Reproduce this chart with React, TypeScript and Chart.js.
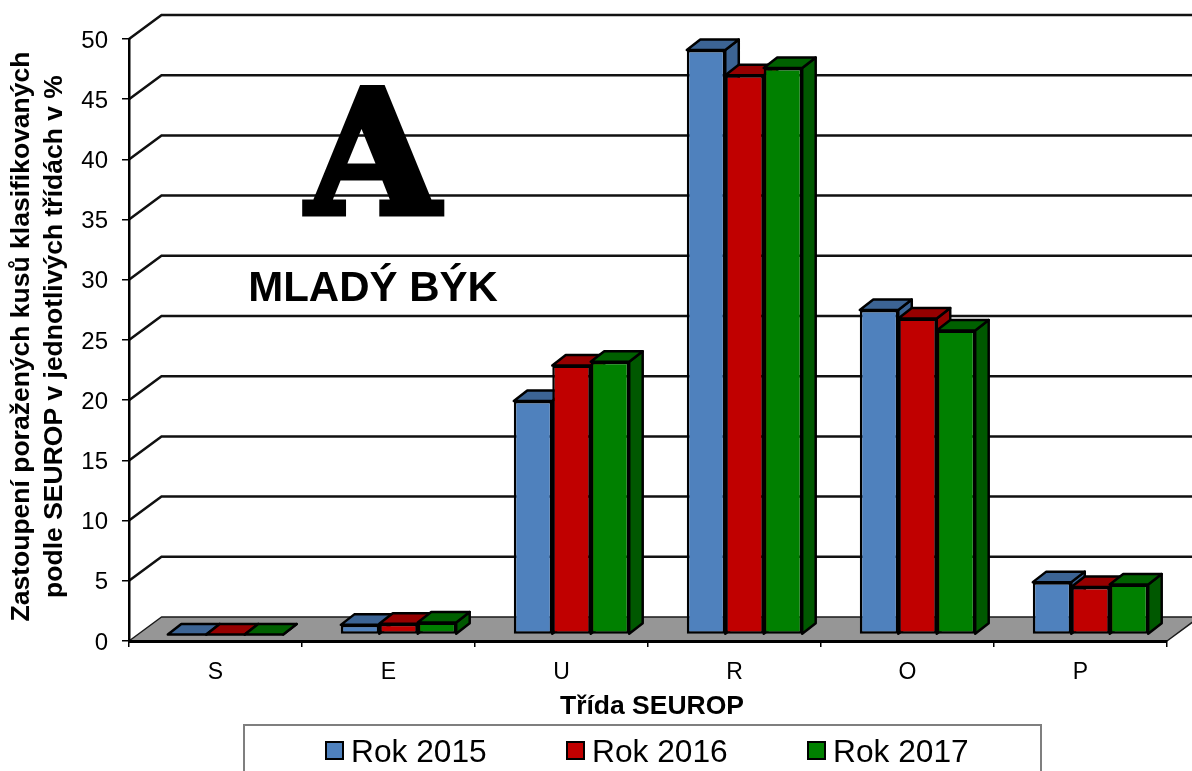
import React, { useEffect, useRef } from "react";
import { Chart, registerables } from "chart.js";

Chart.register(...registerables);

const categories = ["S", "E", "U", "R", "O", "P"];
const rok2015 = [0, 0.8, 19.4, 48.55, 26.95, 4.35];
const rok2016 = [0, 0.9, 22.35, 46.45, 26.25, 3.95];
const rok2017 = [0, 1.0, 22.65, 47.05, 25.25, 4.15];
const seriesLabels = ["Rok 2015", "Rok 2016", "Rok 2017"];
const yTitle = ["Zastoupení poražených kusů klasifikovaných", "podle SEUROP v jednotlivých třídách v %"];
const xTitle = "Třída SEUROP";
const bigLetter = "A";
const subtitle = "MLADÝ BÝK";

const frontColors = ["#4F81BD", "#C00000", "#008000"];
const shadeColors = ["#3C6494", "#960000", "#006000"];
const sideColors = ["#3C6494", "#960000", "#005800"];

const ARIAL = '"Liberation Sans", Arial, sans-serif';
// projection of the 3D box
const WALL = { dx: 32.5, dy: -24 };
const BAR_SHIFT = { dx: 10, dy: -6.5 };
const BAR_DEPTH = { dx: 13.5, dy: -10.5 };

function poly(ctx: CanvasRenderingContext2D, pts: number[][], fill: string | null, stroke: string, lw: number) {
  ctx.beginPath();
  pts.forEach((p, i) => (i ? ctx.lineTo(p[0], p[1]) : ctx.moveTo(p[0], p[1])));
  ctx.closePath();
  if (fill) {
    ctx.fillStyle = fill;
    ctx.fill();
  }
  ctx.strokeStyle = stroke;
  ctx.lineWidth = lw;
  ctx.lineJoin = "round";
  ctx.stroke();
}

// nudge a scale's labels or title by a few pixels when it paints them
function nudge(scale: any, method: string, dx: number, dy: number) {
  if (scale[`__${method}`]) return;
  scale[`__${method}`] = true;
  const orig = scale[method];
  scale[method] = function (...args: any[]) {
    const ctx = this.ctx;
    ctx.save();
    ctx.translate(dx, dy);
    orig.apply(this, args);
    ctx.restore();
  };
}

const box3d = {
  id: "box3d",
  beforeDraw(chart: any) {
    const { ctx, chartArea: a, scales } = chart;
    const y = scales.y;
    const W = chart.width + 40;
    ctx.save();
    // floor
    const y0 = y.getPixelForValue(0);
    poly(
      ctx,
      [
        [a.left, y0],
        [a.left + WALL.dx, y0 + WALL.dy],
        [W, y0 + WALL.dy],
        [a.right + WALL.dx, y0 + WALL.dy],
        [a.right, y0],
      ],
      "#969696",
      "#1a1a1a",
      1.5
    );
    // walls' grid lines
    ctx.strokeStyle = "#111";
    ctx.lineWidth = 2.5;
    ctx.lineJoin = "miter";
    y.ticks.forEach((t: any) => {
      if (t.value === 0) return;
      const py = y.getPixelForValue(t.value);
      ctx.beginPath();
      ctx.moveTo(a.left, py);
      ctx.lineTo(a.left + WALL.dx, py + WALL.dy);
      ctx.lineTo(W, py + WALL.dy);
      ctx.stroke();
    });
    ctx.restore();
  },
  beforeDatasetsDraw(chart: any) {
    const { ctx } = chart;
    ctx.save();
    ctx.translate(BAR_SHIFT.dx, BAR_SHIFT.dy);
    const n = chart.data.labels.length;
    for (let c = 0; c < n; c++) {
      chart.data.datasets.forEach((_: any, d: number) => {
        const b = chart.getDatasetMeta(d).data[c];
        const l = b.x - b.width / 2;
        const r = b.x + b.width / 2;
        const t = b.y;
        const base = b.base;
        const { dx, dy } = BAR_DEPTH;
        poly(ctx, [[r, t], [r + dx, t + dy], [r + dx, base + dy], [r, base]], sideColors[d], "#000", 2.5);
        poly(ctx, [[l, t], [l + dx, t + dy], [r + dx, t + dy], [r, t]], shadeColors[d], "#000", 2.5);
      });
    }
  },
  afterDatasetsDraw(chart: any) {
    chart.ctx.restore();
  },
  afterDraw(chart: any) {
    const { ctx } = chart;
    ctx.save();
    ctx.fillStyle = "#000";
    ctx.textAlign = "center";
    ctx.textBaseline = "alphabetic";
    ctx.font = 'bold 170px "DejaVu Serif", serif';
    ctx.strokeStyle = "#000";
    ctx.lineWidth = 7;
    ctx.lineJoin = "miter";
    ctx.fillText(bigLetter, 373, 213);
    ctx.strokeText(bigLetter, 373, 213);
    ctx.font = `bold 42px ${ARIAL}`;
    ctx.fillText(subtitle, 373, 301);
    // legend
    ctx.strokeStyle = "#7f7f7f";
    ctx.lineWidth = 2;
    ctx.strokeRect(244, 725, 797, 80);
    const xs = [326, 567, 808];
    ctx.textAlign = "left";
    ctx.font = `31.7px ${ARIAL}`;
    chart.data.datasets.forEach((ds: any, i: number) => {
      ctx.fillStyle = ds.backgroundColor;
      ctx.fillRect(xs[i], 742, 17, 17);
      ctx.strokeStyle = "#000";
      ctx.lineWidth = 2;
      ctx.strokeRect(xs[i], 742, 17, 17);
      ctx.fillStyle = "#000";
      ctx.fillText(ds.label, xs[i] + 25, 762);
    });
    ctx.restore();
  },
};

export default function App() {
  const ref = useRef<HTMLCanvasElement>(null);
  useEffect(() => {
    const series = [rok2015, rok2016, rok2017];
    const chart = new Chart(ref.current as HTMLCanvasElement, {
      type: "bar",
      data: {
        labels: categories,
        datasets: series.map((data, i) => ({
          label: seriesLabels[i],
          data,
          backgroundColor: frontColors[i],
          borderColor: "#000",
          borderWidth: 2.5,
          borderSkipped: false,
          categoryPercentage: 0.667,
          barPercentage: 1,
          clip: false,
        })),
      } as any,
      options: {
        responsive: false,
        animation: false,
        layout: { padding: { left: 0, right: 25, top: 39, bottom: 0 } },
        plugins: { legend: { display: false }, tooltip: { enabled: false }, title: { display: false } },
        scales: {
          x: {
            grid: { drawOnChartArea: false, color: "#000", tickLength: 6, lineWidth: 1.5 },
            border: { color: "#000", width: 3 },
            ticks: { color: "#000", font: { family: ARIAL, size: 23 }, padding: 12, maxRotation: 0 },
            title: {
              display: true,
              text: xTitle,
              color: "#000",
              font: { family: ARIAL, size: 26.5, weight: "bold" },
              padding: { top: 0, bottom: 48 },
            },
            afterFit: (s: any) => {
              s.height = 130;
            },
            afterUpdate: (s: any) => {
              nudge(s, "drawTitle", 4, 0);
            },
          },
          y: {
            min: 0,
            max: 50,
            grid: { drawOnChartArea: false, color: "#000", tickLength: 7, lineWidth: 1.5 },
            border: { color: "#000", width: 2.5 },
            ticks: { stepSize: 5, color: "#000", font: { family: ARIAL, size: 24 }, padding: 14 },
            title: {
              display: true,
              text: yTitle,
              color: "#000",
              font: { family: ARIAL, size: 26.5, weight: "bold", lineHeight: 1.245 },
              padding: { top: 5.5, bottom: 0 },
            },
            afterFit: (s: any) => {
              s.width = 129;
            },
            afterUpdate: (s: any) => {
              nudge(s, "drawLabels", 0, 2);
              nudge(s, "drawTitle", 0, -3.5);
            },
          },
        },
      } as any,
      plugins: [box3d],
    });
    return () => chart.destroy();
  }, []);
  return (
    <div style={{ position: "absolute", left: 0, top: 0, width: 1192, height: 771, overflow: "hidden" }}>
      <canvas ref={ref} width={1192} height={771} style={{ display: "block" }} />
    </div>
  );
}
